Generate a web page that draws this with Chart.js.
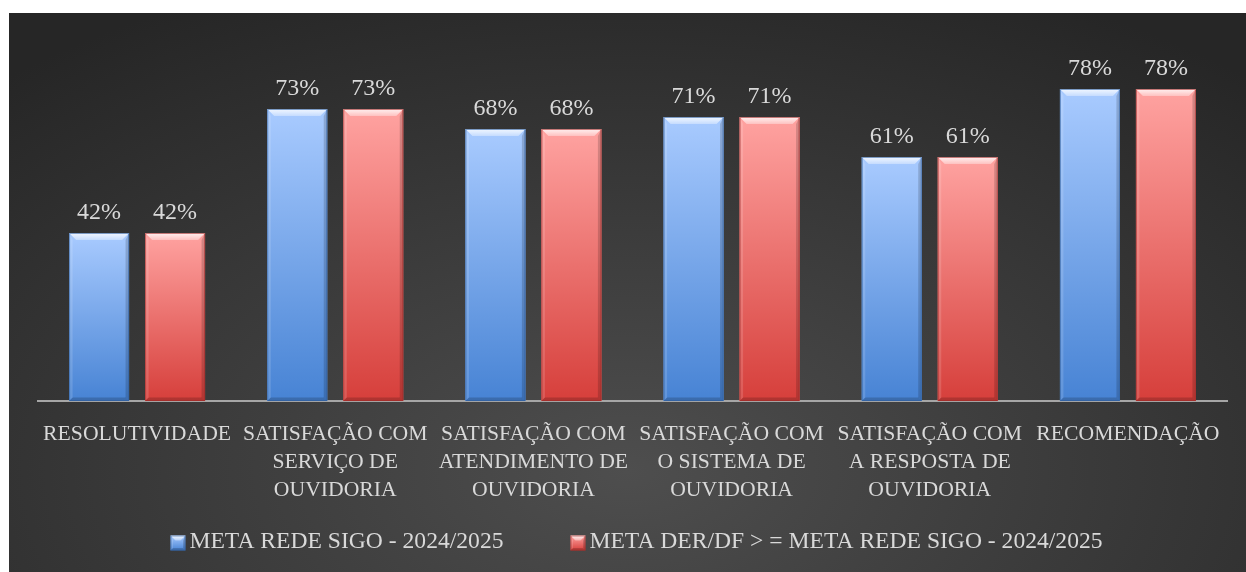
<!DOCTYPE html>
<html>
<head>
<meta charset="utf-8">
<script src="https://cdn.jsdelivr.net/npm/chart.js@4.4.1/dist/chart.umd.min.js"></script>
<style>
    html, body { margin: 0; padding: 0; background: #fff; width: 1246px; height: 572px; overflow: hidden; }
    #wrap {
        position: absolute; left: 9px; top: 13px; width: 1237px; height: 559px;
        background: radial-gradient(ellipse 75% 95% at 50% 82%, #4e4e4e 0%, #3c3c3c 45%, #262626 100%);
    }
    canvas { display: block; }
</style>
</head>
<body>
<div id="wrap"><canvas id="grafico" width="1237" height="559"></canvas></div>
<script>
// --- dados ---
const categorias = [
    ['RESOLUTIVIDADE'],
    ['SATISFAÇÃO COM', 'SERVIÇO DE', 'OUVIDORIA'],
    ['SATISFAÇÃO COM', 'ATENDIMENTO DE', 'OUVIDORIA'],
    ['SATISFAÇÃO COM', 'O SISTEMA DE', 'OUVIDORIA'],
    ['SATISFAÇÃO COM', 'A RESPOSTA DE', 'OUVIDORIA'],
    ['RECOMENDAÇÃO']
];
const metaRedeSigo = [0.42, 0.73, 0.68, 0.71, 0.61, 0.78];
const metaDerDf = [0.42, 0.73, 0.68, 0.71, 0.61, 0.78];
const nomeSerie1 = 'META REDE SIGO - 2024/2025';
const nomeSerie2 = 'META DER/DF > = META REDE SIGO - 2024/2025';

const FONTE = "'Liberation Serif', 'DejaVu Serif', serif";
const COR_TEXTO = '#d9d9d9';

// cores das barras (topo -> base)
const corAzul = { topo: '#a9cbff', base: '#4783d4', borda: '#2f5f9e' };
const corVermelha = { topo: '#ffa3a1', base: '#d63f3b', borda: '#9e2c29' };

// desenha o efeito chanfrado de uma barra
function chanfro(ctx, L, T, R, B, cor, b) {
    const g = ctx.createLinearGradient(0, T, 0, B);
    g.addColorStop(0, cor.topo);
    g.addColorStop(1, cor.base);
    ctx.fillStyle = g;
    ctx.fillRect(L, T, R - L, B - T);

    // topo claro
    const gt = ctx.createLinearGradient(0, T, 0, T + b);
    gt.addColorStop(0, 'rgba(255,255,255,0.85)');
    gt.addColorStop(1, 'rgba(255,255,255,0.35)');
    ctx.fillStyle = gt;
    ctx.beginPath();
    ctx.moveTo(L, T); ctx.lineTo(R, T); ctx.lineTo(R - b, T + b); ctx.lineTo(L + b, T + b);
    ctx.closePath(); ctx.fill();
    // lado esquerdo
    ctx.fillStyle = 'rgba(255,255,255,0.14)';
    ctx.beginPath();
    ctx.moveTo(L, T); ctx.lineTo(L + b * 0.5, T + b); ctx.lineTo(L + b * 0.5, B - b * 0.5); ctx.lineTo(L, B);
    ctx.closePath(); ctx.fill();
    // lado direito
    ctx.fillStyle = 'rgba(0,0,0,0.16)';
    ctx.beginPath();
    ctx.moveTo(R, T); ctx.lineTo(R - b * 0.5, T + b); ctx.lineTo(R - b * 0.5, B - b * 0.5); ctx.lineTo(R, B);
    ctx.closePath(); ctx.fill();
    // base
    ctx.fillStyle = 'rgba(0,0,0,0.18)';
    ctx.beginPath();
    ctx.moveTo(L, B); ctx.lineTo(L + b * 0.5, B - b * 0.5); ctx.lineTo(R - b * 0.5, B - b * 0.5); ctx.lineTo(R, B);
    ctx.closePath(); ctx.fill();
    // contorno
    ctx.strokeStyle = cor.borda;
    ctx.globalAlpha = 0.6;
    ctx.lineWidth = 1;
    ctx.strokeRect(L + 0.5, T + 0.5, R - L - 1, B - T - 1);
    ctx.globalAlpha = 1;
}

const barrasChanfradas = {
    id: 'barrasChanfradas',
    afterDatasetsDraw(chart) {
        const ctx = chart.ctx;
        chart.data.datasets.forEach((ds, i) => {
            const meta = chart.getDatasetMeta(i);
            meta.data.forEach((bar, j) => {
                const L = bar.x - bar.width / 2, R = bar.x + bar.width / 2;
                chanfro(ctx, L, bar.y, R, bar.base, ds.corChanfro, 7);

                // rótulo de dados
                ctx.save();
                ctx.fillStyle = COR_TEXTO;
                ctx.font = '24px ' + FONTE;
                ctx.textAlign = 'center';
                ctx.textBaseline = 'alphabetic';
                ctx.fillText(Math.round(ds.data[j] * 100) + '%', bar.x, bar.y - 14);
                ctx.restore();
            });
        });
    }
};

// legenda própria: caixa chanfrada + texto, espaçamento igual ao do Excel
const legendaChanfrada = {
    id: 'legendaChanfrada',
    afterDraw(chart) {
        const ctx = chart.ctx;
        const caixa = 15, folga = 4, entre = 67;
        ctx.save();
        ctx.font = '23.6px ' + FONTE;
        const itens = chart.data.datasets.map(ds => ({
            texto: ds.label,
            cor: ds.corChanfro,
            w: ctx.measureText(ds.label).width
        }));
        const total = itens.reduce((s, it) => s + caixa + folga + it.w, 0) + entre * (itens.length - 1);
        const centro = (chart.chartArea.left + chart.chartArea.right) / 2 + 4;
        const y = chart.height - 29;
        let x = centro - total / 2;
        itens.forEach(it => {
            chanfro(ctx, x, y - caixa / 2, x + caixa, y + caixa / 2, it.cor, 5);
            ctx.fillStyle = COR_TEXTO;
            ctx.textAlign = 'left';
            ctx.textBaseline = 'middle';
            ctx.fillText(it.texto, x + caixa + folga, y - 1);
            x += caixa + folga + it.w + entre;
        });
        ctx.restore();
    }
};

new Chart(document.getElementById('grafico'), {
    type: 'bar',
    data: {
        labels: categorias,
        datasets: [
            {
                label: nomeSerie1,
                data: metaRedeSigo,
                backgroundColor: '#77a6ea',
                corChanfro: corAzul,
                categoryPercentage: 0.767,
                barPercentage: 0.789
            },
            {
                label: nomeSerie2,
                data: metaDerDf,
                backgroundColor: '#ee7471',
                corChanfro: corVermelha,
                categoryPercentage: 0.767,
                barPercentage: 0.789
            }
        ]
    },
    options: {
        responsive: false,
        animation: false,
        layout: { padding: { left: 29, right: 19, top: 28, bottom: 49 } },
        plugins: {
            tooltip: { enabled: false },
            legend: { display: false }
        },
        scales: {
            x: {
                grid: { display: false, drawTicks: false },
                border: { display: true, color: '#a6a6a6', width: 2 },
                ticks: {
                    color: COR_TEXTO,
                    padding: 19,
                    maxRotation: 0,
                    autoSkip: false,
                    font: { family: FONTE, size: 21.7, lineHeight: 1.29 }
                }
            },
            y: {
                display: false,
                min: 0,
                max: 0.9
            }
        }
    },
    plugins: [barrasChanfradas, legendaChanfrada]
});
</script>
</body>
</html>
